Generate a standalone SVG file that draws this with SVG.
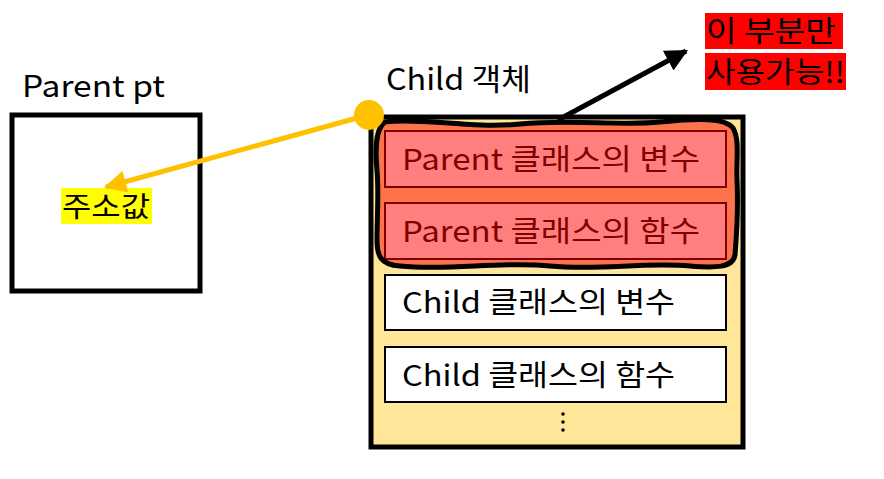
<svg xmlns="http://www.w3.org/2000/svg" width="884" height="479" viewBox="0 0 884 479">
<style>
  text { font-family: "Noto Sans CJK KR", "Noto Sans", sans-serif; fill: #000; }
  .lbl { font-size: 30px; }
  .item { font-size: 29px; }
  .box { fill: #fff; stroke: #000; stroke-width: 2; }
  .note { font-size: 29px; }
</style>
<defs>
  <marker id="ah-gold" viewBox="0 0 10 10" refX="9" refY="5" markerWidth="4.5" markerHeight="4.5" orient="auto" markerUnits="strokeWidth">
    <path d="M0,0 L10,5 L0,10 z" fill="#FFC000"/>
  </marker>
  <marker id="ah-black" viewBox="0 0 10 10" refX="9" refY="5" markerWidth="4.5" markerHeight="4.5" orient="auto" markerUnits="strokeWidth">
    <path d="M0,0 L10,5 L0,10 z" fill="#000"/>
  </marker>
</defs>

<g id="parent-pt">
  <text class="lbl" x="22" y="97" textLength="143" lengthAdjust="spacingAndGlyphs">Parent pt</text>
  <rect x="12" y="115" width="188" height="176" fill="#fff" stroke="#000" stroke-width="5"/>
  <rect x="61" y="188" width="91" height="36" fill="#FFFF00"/>
  <text x="62" y="217" style="font-size:28px" textLength="88" lengthAdjust="spacingAndGlyphs">주소값</text>
</g>

<g id="child-object">
  <text class="lbl" x="386" y="90" textLength="145" lengthAdjust="spacingAndGlyphs">Child 객체</text>
  <rect x="371" y="117" width="372" height="330" fill="#FFE699" stroke="#000" stroke-width="5"/>
  <g id="parent-var">
    <rect class="box" x="385" y="131" width="341" height="56"/>
    <text class="item" x="402" y="170" textLength="298" lengthAdjust="spacingAndGlyphs">Parent 클래스의 변수</text>
  </g>
  <g id="parent-func">
    <rect class="box" x="385" y="203" width="341" height="56"/>
    <text class="item" x="402" y="242" textLength="298" lengthAdjust="spacingAndGlyphs">Parent 클래스의 함수</text>
  </g>
  <g id="child-var">
    <rect class="box" x="385" y="275" width="341" height="55"/>
    <text class="item" x="402" y="313" textLength="273" lengthAdjust="spacingAndGlyphs">Child 클래스의 변수</text>
  </g>
  <g id="child-func">
    <rect class="box" x="385" y="347" width="341" height="55"/>
    <text class="item" x="402" y="386" textLength="273" lengthAdjust="spacingAndGlyphs">Child 클래스의 함수</text>
  </g>
  <g id="ellipsis" fill="#000">
    <circle cx="563" cy="414" r="1.8"/>
    <circle cx="563" cy="422" r="1.8"/>
    <circle cx="563" cy="430" r="1.8"/>
  </g>
  <path id="highlight" d="M 385 122 C 420 117, 470 129, 520 124 C 570 119, 620 126, 660 122 C 700 118, 725 118, 733 128 C 740 140, 736 160, 737 180 C 738 200, 737 230, 735 255 C 733 268, 715 268, 690 266 C 640 262, 600 271, 550 266 C 500 261, 450 271, 400 266 C 380 265, 377 255, 377 240 C 377 215, 379 195, 377 170 C 375 150, 376 128, 385 122 Z" fill="#FF0000" fill-opacity="0.5" stroke="#000" stroke-width="5" stroke-linejoin="round"/>
</g>

<g id="note">
  <rect x="705" y="13" width="138" height="36" fill="#FF0000"/>
  <rect x="705" y="53" width="141" height="37" fill="#FF0000"/>
  <text class="note" x="706" y="42" textLength="130" lengthAdjust="spacingAndGlyphs">이 부분만</text>
  <text class="note" x="706" y="83" textLength="139" lengthAdjust="spacingAndGlyphs">사용가능!!</text>
</g>

<g id="connectors">
  <line x1="368" y1="115" x2="106" y2="187" stroke="#FFC000" stroke-width="5" marker-end="url(#ah-gold)"/>
  <circle cx="369" cy="115" r="15" fill="#FFC000"/>
  <line x1="558" y1="120" x2="686" y2="51" stroke="#000" stroke-width="5" marker-end="url(#ah-black)"/>
</g>
</svg>
